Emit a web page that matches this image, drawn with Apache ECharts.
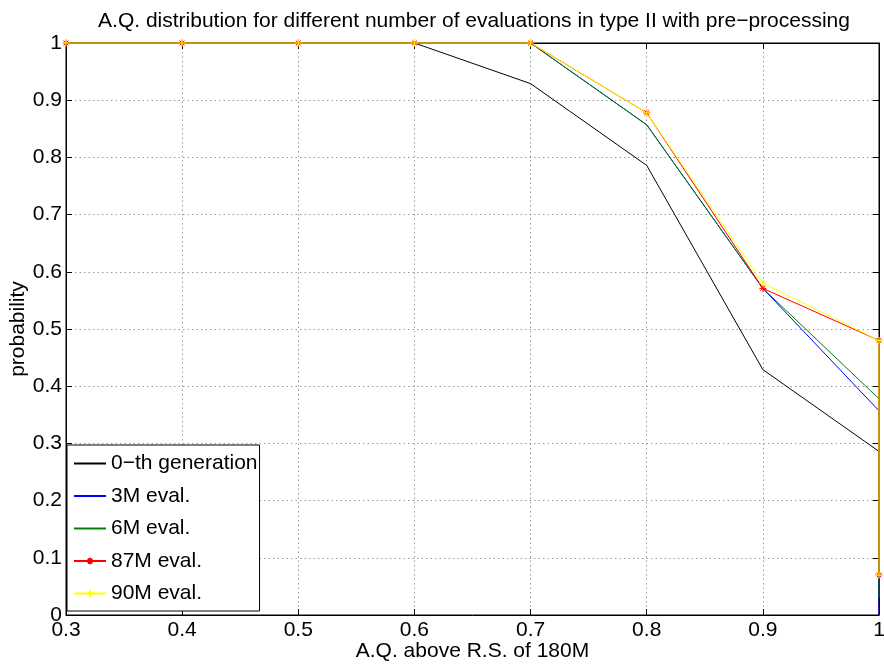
<!DOCTYPE html>
<html>
<head>
<meta charset="utf-8">
<script src="https://cdn.jsdelivr.net/npm/echarts@6/dist/echarts.min.js"></script>
<style>html,body{margin:0;padding:0;background:#fff}#c{width:884px;height:668px}</style>
</head>
<body>
<div id="c"></div>
<script>
// x positions (the last two points share x = 1, giving the final vertical drop)
var xValues = [0.3, 0.4, 0.5, 0.6, 0.7, 0.8, 0.9, 1.0, 1.0];
var gen0    = [1, 1, 1, 1, 0.929, 0.786, 0.429, 0.286, 0];
var eval3M  = [1, 1, 1, 1, 1, 0.857, 0.571, 0.357, 0];
var eval6M  = [1, 1, 1, 1, 1, 0.857, 0.571, 0.378, 0.03];
var eval87M = [1, 1, 1, 1, 1, 0.878, 0.571, 0.48, 0.07];
var eval90M = [1, 1, 1, 1, 1, 0.878, 0.58, 0.48, 0.07];
var seriesNames = ['0\u2212th generation', '3M eval.', '6M eval.', '87M eval.', '90M eval.'];
var titleText = 'A.Q. distribution for different number of evaluations in type II with pre\u2212processing';
var xName = 'A.Q. above R.S. of 180M';
var yName = 'probability';

function pairs(ys) { return ys.map(function (y, i) { return [xValues[i], y]; }); }
function fmt(v) { return String(+(+v).toFixed(1)); }

var FONT = 'Liberation Sans, Arial, Helvetica, sans-serif';
var FS = 21;
var starPath = 'path://M5,0L5,10M0,5L10,5M1.5,1.5L8.5,8.5M8.5,1.5L1.5,8.5';
var plusPath = 'path://M5,0L5,10M0,5L10,5';

function mkSeries(name, ys, color, symbol) {
  return {
    name: name, type: 'line', data: pairs(ys),
    symbol: symbol || 'none', symbolSize: 7, showAllSymbol: true,
    clip: false,
    lineStyle: { color: color, width: 1 },
    itemStyle: { color: color, borderColor: color, borderWidth: 1 },
    emphasis: { disabled: true }, animation: false
  };
}

var axisCommon = {
  type: 'value',
  axisLine: { show: true, onZero: false, lineStyle: { color: '#000', width: 1 } },
  axisTick: { show: true, inside: true, length: 6, lineStyle: { color: '#000' } },
  splitLine: { show: false }
};
var gridLine = { show: true, lineStyle: { color: '#9a9a9a', type: [1.5, 3], width: 1 } };

var chart = echarts.init(document.getElementById('c'), null, { renderer: 'canvas' });
chart.setOption({
  animation: false,
  backgroundColor: '#fff',
  title: {
    text: titleText, left: 469, top: 6, textAlign: 'center',
    textStyle: { fontFamily: FONT, fontSize: FS, fontWeight: 'normal', color: '#000' }
  },
  grid: {
    left: 66, right: 5, top: 43, bottom: 53, containLabel: false, outerBoundsMode: 'none',
    show: true, borderColor: '#000', borderWidth: 1, backgroundColor: '#fff'
  },
  legend: {
    orient: 'vertical', left: 67, top: 445, z: 10,
    padding: [8, 2, 7, 6],
    itemWidth: 32, itemHeight: 8, itemGap: 11.5,
    backgroundColor: '#fff', borderColor: '#000', borderWidth: 1,
    textStyle: { fontFamily: FONT, fontSize: FS, color: '#000', lineHeight: 20 },
    data: [
      { name: seriesNames[0], itemStyle: { opacity: 0 } },
      { name: seriesNames[1], itemStyle: { opacity: 0 } },
      { name: seriesNames[2], itemStyle: { opacity: 0 } },
      { name: seriesNames[3] },
      { name: seriesNames[4] }
    ]
  },
  xAxis: [
    Object.assign({}, axisCommon, {
      min: 0.3, max: 1, interval: 0.1, position: 'bottom',
      name: xName, nameLocation: 'middle', nameGap: 26, nameMoveOverlap: false,
      nameTextStyle: { fontFamily: FONT, fontSize: FS, color: '#000' },
      axisLabel: { formatter: fmt, margin: 5, fontFamily: FONT, fontSize: FS, color: '#000' },
      splitLine: gridLine
    }),
    Object.assign({}, axisCommon, {
      min: 0.3, max: 1, interval: 0.1, position: 'top', axisLabel: { show: false }
    })
  ],
  yAxis: [
    Object.assign({}, axisCommon, {
      min: 0, max: 1, interval: 0.1, position: 'left',
      name: yName, nameLocation: 'middle', nameGap: 37, nameMoveOverlap: false,
      nameTextStyle: { fontFamily: FONT, fontSize: FS, color: '#000' },
      axisLabel: { formatter: fmt, margin: 4, fontFamily: FONT, fontSize: FS, color: '#000' },
      splitLine: gridLine
    }),
    Object.assign({}, axisCommon, {
      min: 0, max: 1, interval: 0.1, position: 'right', axisLabel: { show: false }
    })
  ],
  series: [
    mkSeries(seriesNames[0], gen0, '#000000'),
    mkSeries(seriesNames[1], eval3M, '#0000ff'),
    mkSeries(seriesNames[2], eval6M, '#008000'),
    mkSeries(seriesNames[3], eval87M, '#ff0000', starPath),
    mkSeries(seriesNames[4], eval90M, '#ffff00', plusPath)
  ]
});
</script>
</body>
</html>
